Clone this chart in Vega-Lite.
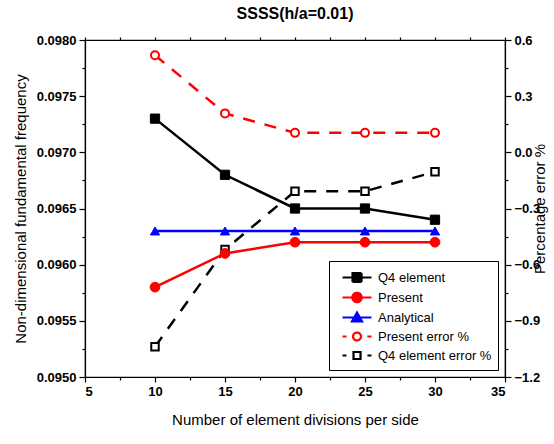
{
  "$schema": "https://vega.github.io/schema/vega-lite/v6.json",
  "width": 420,
  "height": 337,
  "autosize": {"type": "none"},
  "padding": {"left": 85, "top": 40, "right": 49, "bottom": 67},
  "title": {"text": "SSSS(h/a=0.01)", "fontSize": 16, "fontWeight": "bold", "font": "Liberation Sans", "color": "black", "offset": 12},
  "config": {
    "view": {"stroke": "black", "strokeWidth": 1.2},
    "axis": {
      "labelFont": "Liberation Sans", "labelFontWeight": "bold", "labelFontSize": 13, "labelColor": "black",
      "titleFont": "Liberation Sans", "titleFontWeight": "normal", "titleFontSize": 15, "titleColor": "black",
      "domainColor": "black", "domainWidth": 1.2, "tickColor": "black", "tickWidth": 1.2, "grid": false
    },
    "legend": {"labelFont": "Liberation Sans", "labelFontSize": 13, "labelColor": "black"}
  },
  "data": {"values": [
    {"n": 10, "series": "Q4 element", "v": 0.0973, "g": "f"},
    {"n": 15, "series": "Q4 element", "v": 0.0968, "g": "f"},
    {"n": 20, "series": "Q4 element", "v": 0.0965, "g": "f"},
    {"n": 25, "series": "Q4 element", "v": 0.0965, "g": "f"},
    {"n": 30, "series": "Q4 element", "v": 0.0964, "g": "f"},
    {"n": 10, "series": "Present", "v": 0.0958, "g": "f"},
    {"n": 15, "series": "Present", "v": 0.0961, "g": "f"},
    {"n": 20, "series": "Present", "v": 0.0962, "g": "f"},
    {"n": 25, "series": "Present", "v": 0.0962, "g": "f"},
    {"n": 30, "series": "Present", "v": 0.0962, "g": "f"},
    {"n": 10, "series": "Analytical", "v": 0.0963, "g": "f"},
    {"n": 15, "series": "Analytical", "v": 0.0963, "g": "f"},
    {"n": 20, "series": "Analytical", "v": 0.0963, "g": "f"},
    {"n": 25, "series": "Analytical", "v": 0.0963, "g": "f"},
    {"n": 30, "series": "Analytical", "v": 0.0963, "g": "f"},
    {"n": 10, "series": "Present error %", "v": 0.519, "g": "e"},
    {"n": 15, "series": "Present error %", "v": 0.208, "g": "e"},
    {"n": 20, "series": "Present error %", "v": 0.104, "g": "e"},
    {"n": 25, "series": "Present error %", "v": 0.104, "g": "e"},
    {"n": 30, "series": "Present error %", "v": 0.104, "g": "e"},
    {"n": 10, "series": "Q4 element error %", "v": -1.038, "g": "e"},
    {"n": 15, "series": "Q4 element error %", "v": -0.519, "g": "e"},
    {"n": 20, "series": "Q4 element error %", "v": -0.208, "g": "e"},
    {"n": 25, "series": "Q4 element error %", "v": -0.208, "g": "e"},
    {"n": 30, "series": "Q4 element error %", "v": -0.104, "g": "e"}
  ]},
  "encoding": {
    "stroke": {
      "field": "series", "type": "nominal",
      "scale": {
        "domain": ["Q4 element", "Present", "Analytical", "Present error %", "Q4 element error %"],
        "range": ["#000000", "#ff0000", "#0000ff", "#ff0000", "#000000"]
      },
      "legend": {
        "title": null, "orient": "bottom-right", "offset": 7,
        "strokeColor": "black", "padding": 6, "fillColor": "white",
        "symbolSize": 324, "symbolStrokeWidth": 2.2, "rowPadding": 0, "labelOffset": 22,
        "encode": {
          "symbols": {"update": {
            "shape": {"signal": "datum.value == 'Q4 element' ? 'M-0.33,0H2.89M0.78,-0.5H1.78V0.5H0.78Z' : datum.value == 'Present' ? 'M-0.33,0H2.89M1.8,0A0.52,0.52 0 1,1 0.76,0A0.52,0.52 0 1,1 1.8,0Z' : datum.value == 'Analytical' ? 'M-0.33,0H2.89M1.28,-0.55L1.84,0.44H0.72Z' : datum.value == 'Present error %' ? 'M-0.33,0H0.11M2.44,0H2.89M1.72,0A0.44,0.44 0 1,1 0.84,0A0.44,0.44 0 1,1 1.72,0Z' : 'M-0.33,0H0.11M2.44,0H2.89M0.89,-0.39H1.67V0.39H0.89Z'"},
            "fill": {"signal": "datum.value == 'Q4 element' ? 'black' : datum.value == 'Present' ? 'red' : datum.value == 'Analytical' ? 'blue' : 'white'"},
            "strokeDash": {"value": [1, 0]},
            "opacity": {"value": 1}
          }}
        }
      }
    }
  },
  "layer": [
    {
      "transform": [{"filter": "datum.g == 'e'"}],
      "encoding": {
        "x": {
          "field": "n", "type": "quantitative",
          "scale": {"domain": [5, 35], "nice": false},
          "axis": {
            "orient": "bottom", "title": "Number of element divisions per side", "titlePadding": 14,
            "values": [5, 7.5, 10, 12.5, 15, 17.5, 20, 22.5, 25, 27.5, 30, 32.5, 35],
            "labelExpr": "datum.value % 5 == 0 ? format(datum.value, 'd') : ''",
            "tickSize": {"condition": {"test": "datum.value % 5 == 0", "value": 5}, "value": 3},
            "labelPadding": 3
          }
        },
        "y": {
          "field": "v", "type": "quantitative",
          "scale": {"domain": [-1.2, 0.6], "nice": false, "zero": false},
          "axis": {
            "orient": "right", "title": "Percentage error %", "titleAngle": 270, "titlePadding": 8,
            "values": [-1.2, -1.05, -0.9, -0.75, -0.6, -0.45, -0.3, -0.15, 0, 0.15, 0.3, 0.45, 0.6],
            "labelExpr": "abs(datum.value/0.3 - round(datum.value/0.3)) < 0.01 ? format(datum.value, '.1f') : ''",
            "tickSize": {"condition": {"test": "abs(datum.value/0.3 - round(datum.value/0.3)) < 0.01", "value": 6}, "value": 3},
            "labelPadding": 3
          }
        }
      },
      "layer": [
        {"mark": {"type": "line", "strokeWidth": 2.5, "strokeDash": [12, 10]}, "encoding": {"detail": {"field": "series"}}},
        {"transform": [{"filter": "datum.series == 'Present error %'"}], "mark": {"type": "point", "shape": "circle", "filled": false, "fill": "white", "strokeWidth": 2, "opacity": 1, "size": 64}},
        {"transform": [{"filter": "datum.series == 'Q4 element error %'"}], "mark": {"type": "point", "shape": "square", "filled": false, "fill": "white", "strokeWidth": 2, "opacity": 1, "size": 56}}
      ]
    },
    {
      "transform": [{"filter": "datum.g == 'f'"}],
      "encoding": {
        "x": {
          "field": "n", "type": "quantitative",
          "scale": {"domain": [5, 35], "nice": false},
          "axis": {
            "orient": "top", "title": null, "labels": false, "domain": false,
            "values": [5, 7.5, 10, 12.5, 15, 17.5, 20, 22.5, 25, 27.5, 30, 32.5, 35],
            "tickSize": 3
          }
        },
        "y": {
          "field": "v", "type": "quantitative",
          "scale": {"domain": [0.095, 0.098], "nice": false, "zero": false},
          "axis": {
            "orient": "left", "title": "Non-dimensional fundamental frequency", "titlePadding": 8,
            "values": [0.095, 0.09525, 0.0955, 0.09575, 0.096, 0.09625, 0.0965, 0.09675, 0.097, 0.09725, 0.0975, 0.09775, 0.098],
            "labelExpr": "abs(datum.value*2000 - round(datum.value*2000)) < 0.01 ? format(datum.value, '.4f') : ''",
            "tickSize": {"condition": {"test": "abs(datum.value*2000 - round(datum.value*2000)) < 0.01", "value": 6}, "value": 3},
            "labelPadding": 3
          }
        }
      },
      "layer": [
        {"mark": {"type": "line", "strokeWidth": 2.5}, "encoding": {"detail": {"field": "series"}}},
        {"transform": [{"filter": "datum.series == 'Q4 element'"}], "mark": {"type": "point", "shape": "square", "filled": false, "fill": "black", "strokeWidth": 1, "opacity": 1, "size": 85}},
        {"transform": [{"filter": "datum.series == 'Present'"}], "mark": {"type": "point", "shape": "circle", "filled": false, "fill": "red", "strokeWidth": 1, "opacity": 1, "size": 95}},
        {"transform": [{"filter": "datum.series == 'Analytical'"}], "mark": {"type": "point", "shape": "triangle-up", "filled": false, "fill": "blue", "strokeWidth": 1, "opacity": 1, "size": 85}}
      ]
    }
  ],
  "resolve": {"scale": {"y": "independent"}}
}
